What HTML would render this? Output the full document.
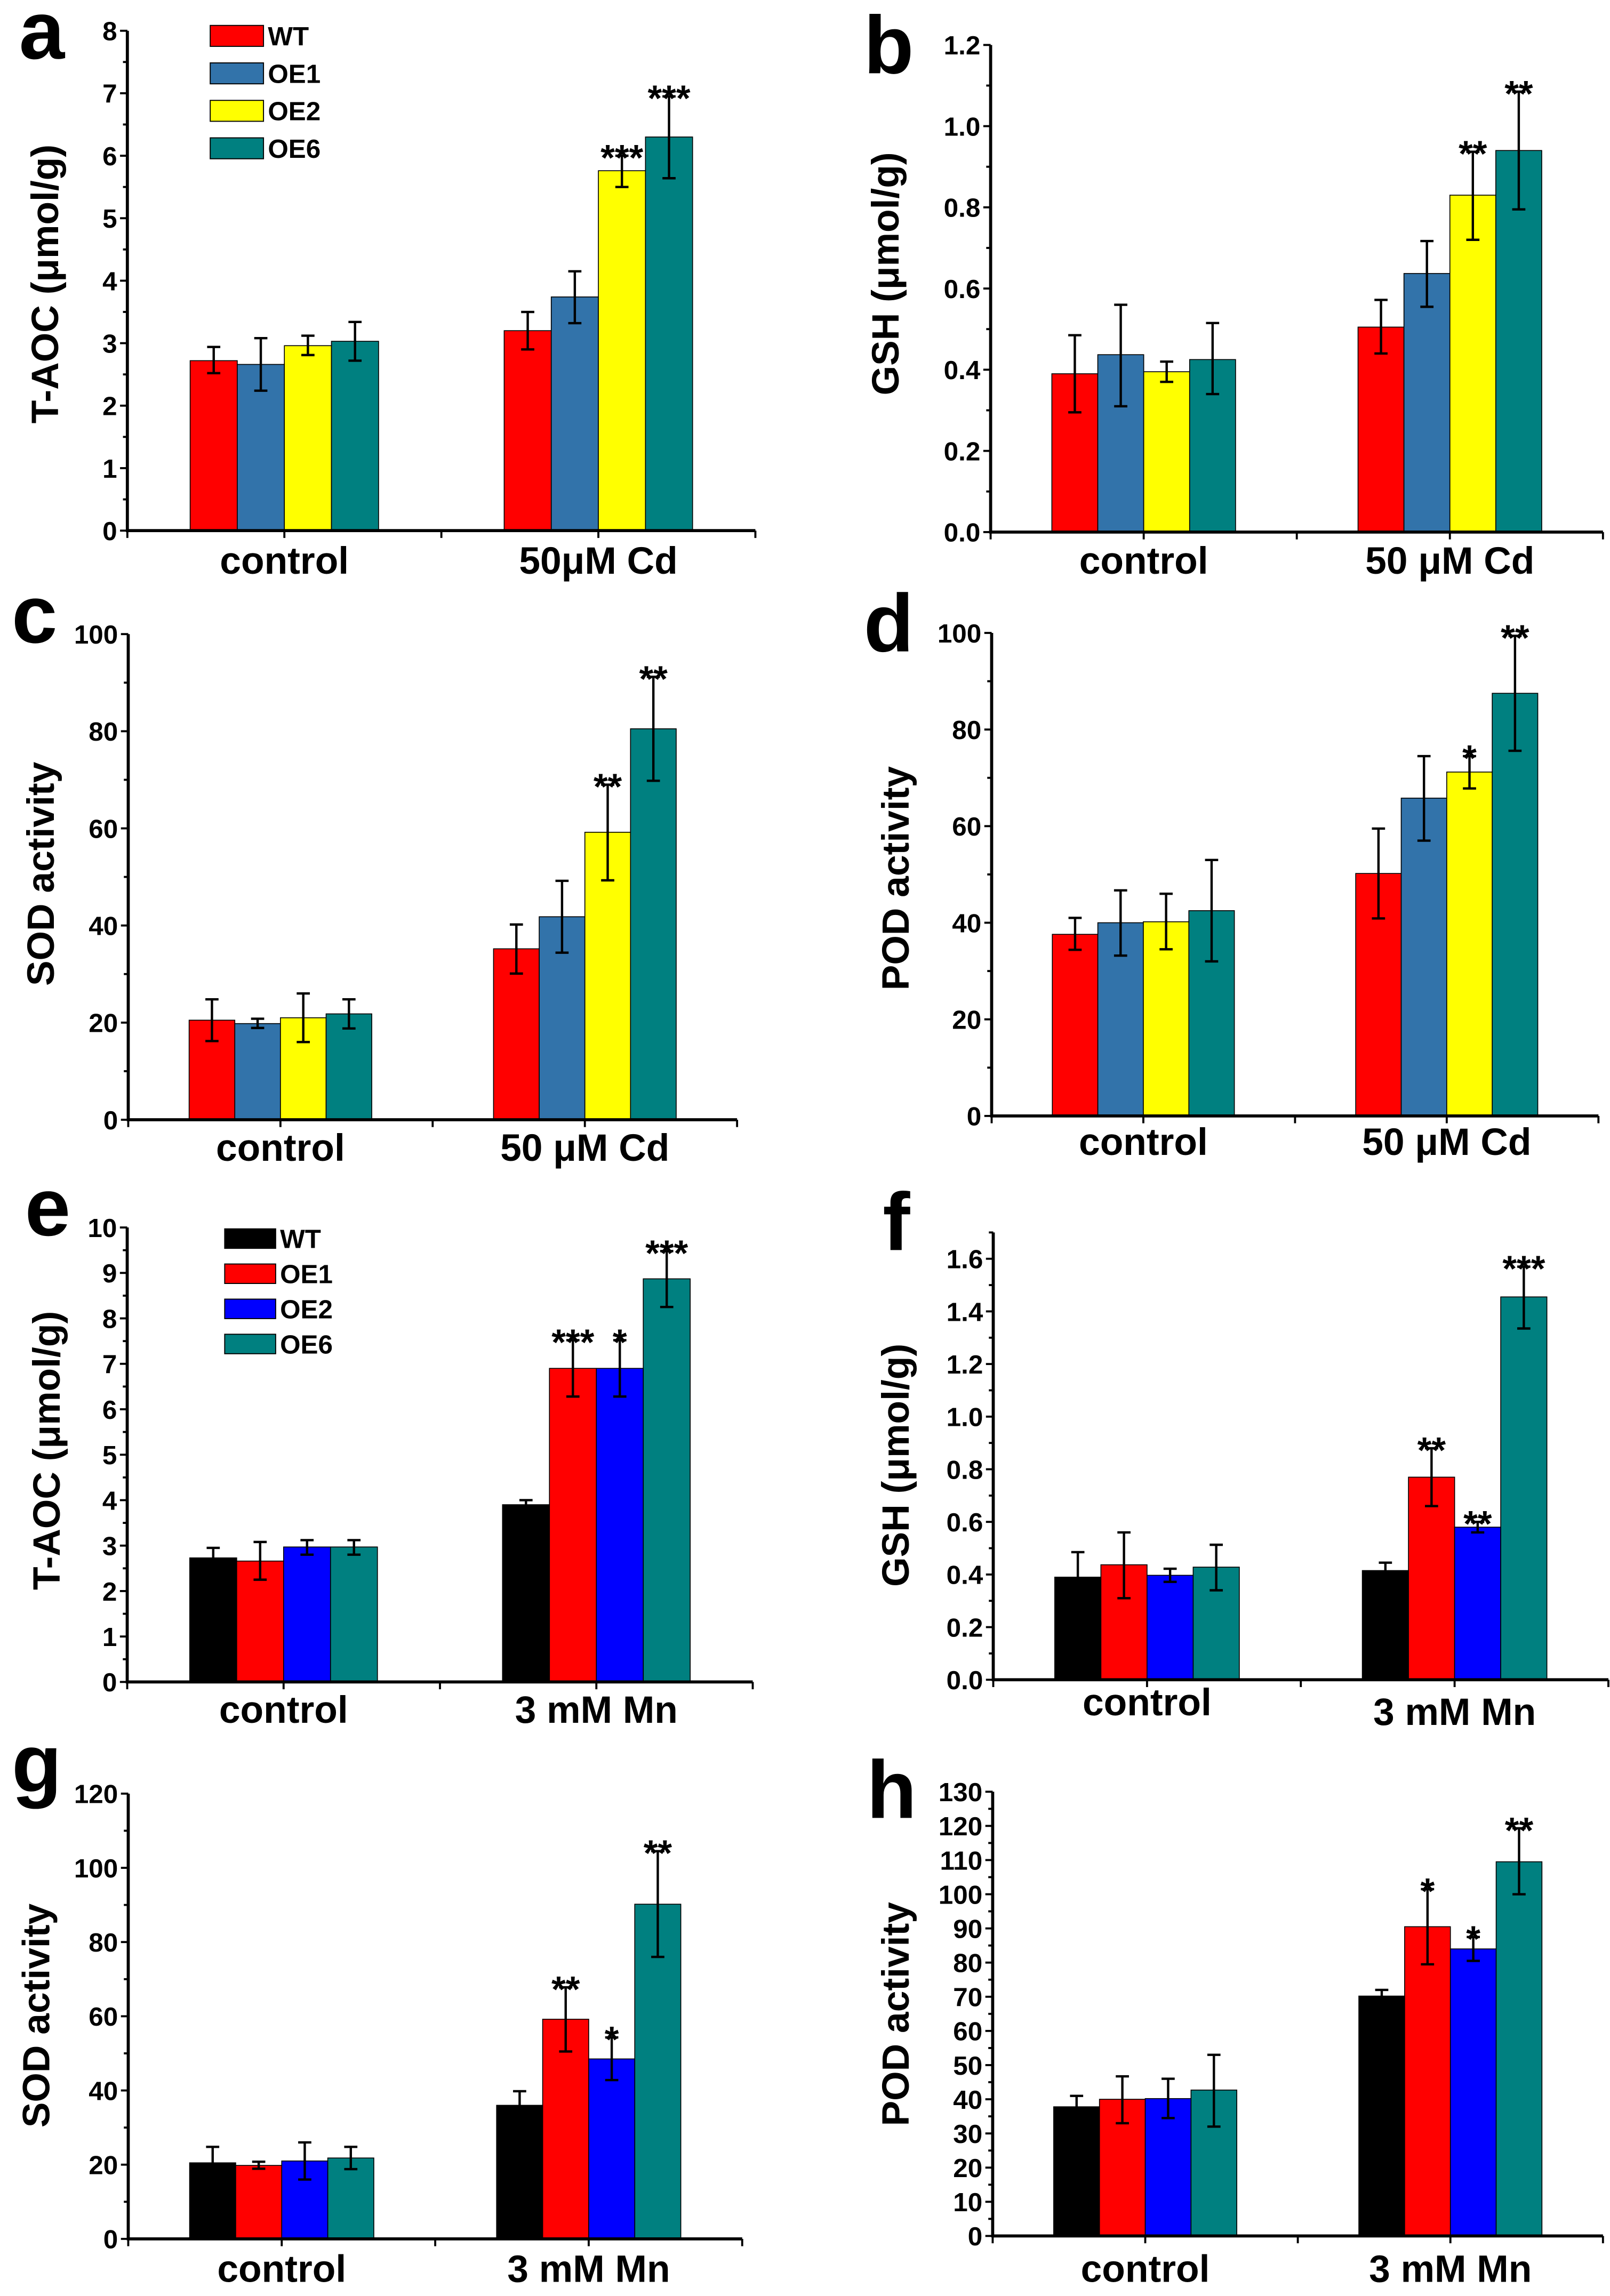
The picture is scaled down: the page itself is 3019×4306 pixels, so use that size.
<!DOCTYPE html>
<html><head><meta charset="utf-8"><title>Antioxidant panels</title>
<style>
html,body{margin:0;padding:0;background:#fff;}
svg{display:block;font-family:"Liberation Sans",Arial,sans-serif;}
</style></head>
<body>
<svg id="fig" xmlns="http://www.w3.org/2000/svg" width="3019" height="4306" viewBox="0 0 1099.8 1568.6">
<rect x="0" y="0" width="1099.8" height="1568.6" fill="#fff"/>
</svg>
<script>
// ---- shared data ----
const cats = ["control", "treated"];
const seriesCd = ["WT", "OE1", "OE2", "OE6"];
const seriesMn = ["WT", "OE1", "OE2", "OE6"];
const colorsCd = ["#ff0000", "#3273aa", "#ffff00", "#008080"];
const colorsMn = ["#000000", "#ff0000", "#0000ff", "#008080"];

// panel a: T-AOC Cd
const aCtrl = [2.72, 2.66, 2.96, 3.03];
const aTrt = [3.2, 3.74, 5.76, 6.3];
const aLoCtrl = [2.52, 2.24, 2.81, 2.72];
const aHiCtrl = [2.94, 3.08, 3.12, 3.34];
const aLoTrt = [2.9, 3.32, 5.5, 5.64];
const aHiTrt = [3.5, 4.15, 6.0, 6.95];
const aStars = ["", "", "***", "***"];
// panel b: GSH Cd
const bCtrl = [0.39, 0.437, 0.395, 0.425];
const bTrt = [0.505, 0.637, 0.83, 0.94];
const bLoCtrl = [0.295, 0.31, 0.37, 0.34];
const bHiCtrl = [0.485, 0.56, 0.42, 0.515];
const bLoTrt = [0.44, 0.555, 0.72, 0.795];
const bHiTrt = [0.572, 0.717, 0.937, 1.085];
const bStars = ["", "", "**", "**"];
// panel c: SOD Cd
const cCtrl = [20.5, 19.8, 21, 21.8];
const cTrt = [35.2, 41.8, 59.2, 80.5];
const cLoCtrl = [16.2, 18.9, 16, 18.8];
const cHiCtrl = [24.8, 20.8, 26, 24.8];
const cLoTrt = [30.1, 34.4, 49.3, 69.8];
const cHiTrt = [40.2, 49.2, 69, 91.2];
const cStars = ["", "", "**", "**"];
// panel d: POD Cd
const dCtrl = [37.6, 40, 40.2, 42.5];
const dTrt = [50.2, 65.8, 71.2, 87.5];
const dLoCtrl = [34.4, 33.2, 34.5, 32];
const dHiCtrl = [41, 46.7, 46, 53];
const dLoTrt = [40.9, 57, 67.8, 75.6];
const dHiTrt = [59.5, 74.5, 74.5, 99.4];
const dStars = ["", "", "*", "**"];
// panel e: T-AOC Mn
const eCtrl = [2.73, 2.66, 2.97, 2.97];
const eTrt = [3.9, 6.9, 6.9, 8.87];
const eLoCtrl = [2.5, 2.25, 2.8, 2.8];
const eHiCtrl = [2.95, 3.08, 3.12, 3.12];
const eLoTrt = [3.8, 6.28, 6.28, 8.25];
const eHiTrt = [4.0, 7.52, 7.52, 9.48];
const eStars = ["", "***", "*", "***"];
// panel f: GSH Mn
const fCtrl = [0.39, 0.437, 0.397, 0.428];
const fTrt = [0.415, 0.77, 0.58, 1.455];
const fLoCtrl = [0.3, 0.31, 0.372, 0.34];
const fHiCtrl = [0.485, 0.56, 0.422, 0.513];
const fLoTrt = [0.385, 0.66, 0.56, 1.335];
const fHiTrt = [0.445, 0.88, 0.6, 1.57];
const fStars = ["", "**", "**", "***"];
// panel g: SOD Mn
const gCtrl = [20.5, 19.8, 21, 21.8];
const gTrt = [36, 59.2, 48.5, 90.2];
const gLoCtrl = [16.2, 18.9, 16, 18.8];
const gHiCtrl = [24.8, 20.8, 26, 24.8];
const gLoTrt = [32, 50.5, 42.8, 76];
const gHiTrt = [39.8, 67.8, 54.3, 104.5];
const gStars = ["", "**", "*", "**"];
// panel h: POD Mn
const hCtrl = [37.8, 40, 40.2, 42.7];
const hTrt = [70.2, 90.5, 84, 109.5];
const hLoCtrl = [34.6, 33, 34.5, 32];
const hHiCtrl = [41, 46.7, 46, 53];
const hLoTrt = [68.4, 79.5, 80.5, 100];
const hHiTrt = [72, 101.5, 87.5, 119.3];
const hStars = ["", "*", "*", "**"];

const NS = "http://www.w3.org/2000/svg";
const root = document.getElementById("fig");
function mk(tag, attrs, parent) {
  const el = document.createElementNS(NS, tag);
  for (const k in attrs) el.setAttribute(k, attrs[k]);
  parent.appendChild(el);
  return el;
}

function panel(p) {
  const g = mk("g", {}, root);
  
  
  const xs = c => p.x0 + (p.x1 - p.x0) * (0.25 + 0.5 * c);
  const ys = v => p.y0 - (v / p.max) * (p.y0 - p.yTop);
  const interval = (p.x1 - p.x0) / 4;
  const bw = interval * 0.3;

  const groups = [[p.ctrl, p.loC, p.hiC], [p.trt, p.loT, p.hiT]];
  groups.forEach((grp, ci) => {
    const cx = xs(ci);
    for (let s = 0; s < 4; s++) {
      const v = grp[0][s];
      const bx = cx - 2 * bw + s * bw;
      const r = mk("rect", {x: bx, y: ys(v), width: bw, height: p.y0 - ys(v), fill: p.colors[s], stroke: "#000", "stroke-width": 0.6}, g);
      
      
    }
  });
  groups.forEach((grp, ci) => {
    const cx = xs(ci);
    for (let s = 0; s < 4; s++) {
      const mx = cx - 2 * bw + s * bw + bw / 2;
      const lo = ys(grp[1][s]), hi = ys(grp[2][s]);
      const eg = mk("g", {stroke: "#000", "stroke-width": 1.6}, g);
      
      
      mk("line", {x1: mx, x2: mx, y1: lo, y2: hi}, eg);
      mk("line", {x1: mx - 4.5, x2: mx + 4.5, y1: lo, y2: lo}, eg);
      mk("line", {x1: mx - 4.5, x2: mx + 4.5, y1: hi, y2: hi}, eg);
      if (ci === 1 && p.stars[s]) {
        const t = mk("text", {x: mx, y: hi + 10, "text-anchor": "middle", "font-size": 25, "font-weight": "bold", fill: "#000"}, g);
        t.textContent = p.stars[s];
        
        
      }
    }
  });

  const ax = mk("g", {stroke: "#000", "stroke-width": 2.1, fill: "none"}, g);
  
  
  mk("line", {x1: p.x0, x2: p.x0, y1: p.y0 + 1, y2: p.yTop}, ax);
  mk("line", {x1: p.x0, x2: p.x1, y1: p.y0, y2: p.y0}, ax);
  for (let k = 0; k <= 4; k++) {
    const x = p.x0 + interval * k;
    mk("line", {x1: x, x2: x, y1: p.y0, y2: p.y0 + 5, "stroke-width": 1.4}, ax);
  }
  const nMinor = Math.round(p.max / p.minor);
  for (let k = 0; k <= nMinor; k++) {
    const v = k * p.minor;
    const isMajor = Math.abs(v / p.major - Math.round(v / p.major)) < 1e-6;
    mk("line", {x1: p.x0 - (isMajor ? 5 : 3), x2: p.x0, y1: ys(v), y2: ys(v), "stroke-width": 1.4}, ax);
  }
  const nMajor = Math.floor(p.max / p.major + 1e-6);
  for (let k = 0; k <= nMajor; k++) {
    const v = k * p.major;
    const t = mk("text", {x: p.x0 - 7, y: ys(v) + 6.5, "text-anchor": "end", "font-size": 18, "font-weight": "bold", fill: "#000"}, g);
    t.textContent = v.toFixed(p.dec);
    
    
  }
  p.xlabels.forEach((lab, ci) => {
    const t = mk("text", {x: xs(ci), y: p.xlabY[ci], "text-anchor": "middle", "font-size": 26, "font-weight": "bold", fill: "#000"}, g);
    t.textContent = lab;
    
    
  });
  const yt = mk("text", {x: 0, y: 0, transform: "translate(" + p.titleX + "," + p.titleY + ") rotate(-90)", "text-anchor": "middle", "dominant-baseline": "central", "font-size": 26, "font-weight": "bold", fill: "#000"}, g);
  yt.textContent = p.title;
  
  
  const pl = mk("text", {x: p.letX, y: p.letY, "font-size": 56, "font-weight": "bold", fill: "#000"}, g);
  pl.textContent = p.id;
  
  

  if (p.legend) {
    const lg = mk("g", {}, g);
    
    
    for (let s = 0; s < 4; s++) {
      const cy = p.legend.y + s * p.legend.dy;
      const e = mk("g", {}, lg);
      
      
      mk("rect", {x: p.legend.x, y: cy - p.legend.h / 2, width: p.legend.w, height: p.legend.h, fill: p.colors[s], stroke: "#000", "stroke-width": 0.7}, e);
      const t = mk("text", {x: p.legend.x + p.legend.w + 3, y: cy + 6.5, "font-size": 18, "font-weight": "bold", fill: "#000"}, e);
      t.textContent = p.series[s];
    }
  }
}

panel({id: "a", x0: 87, x1: 516, y0: 362.5, yTop: 21, max: 8, major: 1, minor: 0.5, dec: 0,
  ctrl: aCtrl, trt: aTrt, loC: aLoCtrl, hiC: aHiCtrl, loT: aLoTrt, hiT: aHiTrt, stars: aStars,
  colors: colorsCd, series: seriesCd, xlabels: ["control", "50μM Cd"], xlabY: [392, 392],
  title: "T-AOC (μmol/g)", titleX: 31, titleY: 194, letX: 13, letY: 40,
  legend: {x: 143.6, y: 24.5, dy: 25.6, w: 36.4, h: 14.3}});
panel({id: "b", x0: 676.7, x1: 1095, y0: 363.5, yTop: 30.7, max: 1.2, major: 0.2, minor: 0.1, dec: 1,
  ctrl: bCtrl, trt: bTrt, loC: bLoCtrl, hiC: bHiCtrl, loT: bLoTrt, hiT: bHiTrt, stars: bStars,
  colors: colorsCd, series: seriesCd, xlabels: ["control", "50 μM Cd"], xlabY: [392, 392],
  title: "GSH (μmol/g)", titleX: 605, titleY: 187, letX: 590, letY: 50});
panel({id: "c", x0: 87.6, x1: 503.5, y0: 765, yTop: 433.2, max: 100, major: 20, minor: 10, dec: 0,
  ctrl: cCtrl, trt: cTrt, loC: cLoCtrl, hiC: cHiCtrl, loT: cLoTrt, hiT: cHiTrt, stars: cStars,
  colors: colorsCd, series: seriesCd, xlabels: ["control", "50 μM Cd"], xlabY: [793, 793],
  title: "SOD activity", titleX: 28, titleY: 597, letX: 8, letY: 439});
panel({id: "d", x0: 677.4, x1: 1091.9, y0: 762.4, yTop: 432.4, max: 100, major: 20, minor: 10, dec: 0,
  ctrl: dCtrl, trt: dTrt, loC: dLoCtrl, hiC: dHiCtrl, loT: dLoTrt, hiT: dHiTrt, stars: dStars,
  colors: colorsCd, series: seriesCd, xlabels: ["control", "50 μM Cd"], xlabY: [789, 789],
  title: "POD activity", titleX: 612, titleY: 600, letX: 590, letY: 445});
panel({id: "e", x0: 86.9, x1: 514.2, y0: 1149.1, yTop: 838.6, max: 10, major: 1, minor: 0.5, dec: 0,
  ctrl: eCtrl, trt: eTrt, loC: eLoCtrl, hiC: eHiCtrl, loT: eLoTrt, hiT: eHiTrt, stars: eStars,
  colors: colorsMn, series: seriesMn, xlabels: ["control", "3 mM Mn"], xlabY: [1177, 1177],
  title: "T-AOC (μmol/g)", titleX: 32, titleY: 991, letX: 17, letY: 844,
  legend: {x: 153.5, y: 846.2, dy: 24, w: 34.8, h: 13.3}});
panel({id: "f", x0: 678.5, x1: 1098.7, y0: 1147.6, yTop: 842, max: 1.7, major: 0.2, minor: 0.1, dec: 1,
  ctrl: fCtrl, trt: fTrt, loC: fLoCtrl, hiC: fHiCtrl, loT: fLoTrt, hiT: fHiTrt, stars: fStars,
  colors: colorsMn, series: seriesMn, xlabels: ["control", "3 mM Mn"], xlabY: [1172, 1178.5],
  title: "GSH (μmol/g)", titleX: 612, titleY: 1001, letX: 603, letY: 854});
panel({id: "g", x0: 87.6, x1: 507, y0: 1529.6, yTop: 1225.4, max: 120, major: 20, minor: 10, dec: 0,
  ctrl: gCtrl, trt: gTrt, loC: gLoCtrl, hiC: gHiCtrl, loT: gLoTrt, hiT: gHiTrt, stars: gStars,
  colors: colorsMn, series: seriesMn, xlabels: ["control", "3 mM Mn"], xlabY: [1559, 1559],
  title: "SOD activity", titleX: 25, titleY: 1377, letX: 8, letY: 1224});
panel({id: "h", x0: 678.1, x1: 1095, y0: 1527.6, yTop: 1224.1, max: 130, major: 10, minor: 5, dec: 0,
  ctrl: hCtrl, trt: hTrt, loC: hLoCtrl, hiC: hHiCtrl, loT: hLoTrt, hiT: hHiTrt, stars: hStars,
  colors: colorsMn, series: seriesMn, xlabels: ["control", "3 mM Mn"], xlabY: [1559, 1559],
  title: "POD activity", titleX: 612, titleY: 1376, letX: 592, letY: 1242});
</script>
</body></html>
